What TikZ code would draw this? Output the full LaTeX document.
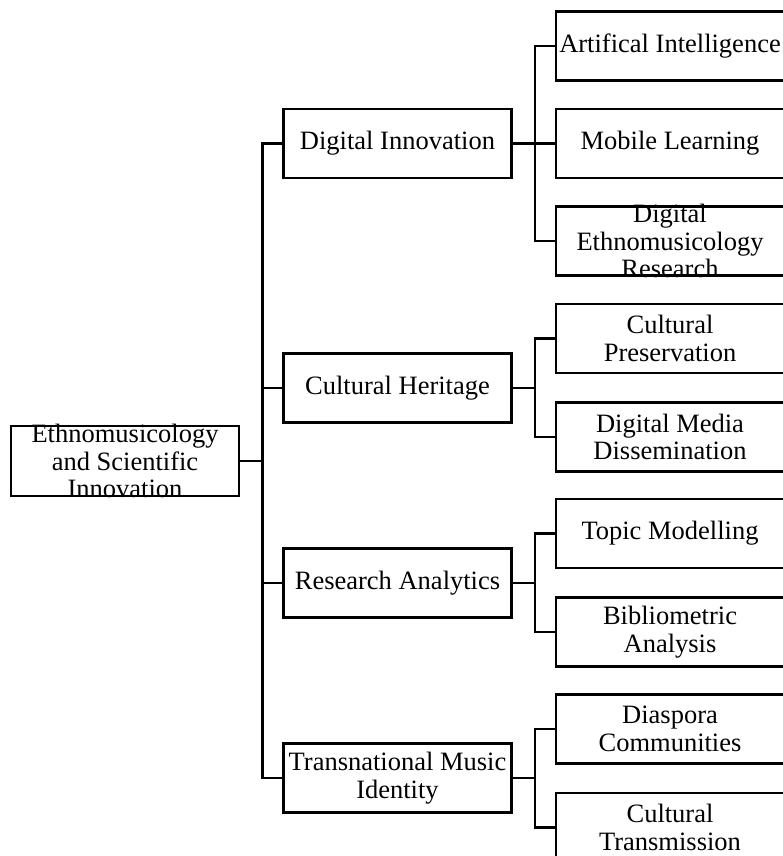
\documentclass[tikz,border=0pt]{standalone}
\usepackage{fontspec}
\setmainfont{Liberation Serif}
\usetikzlibrary{calc}
\begin{document}
\begin{tikzpicture}[x=1pt,y=-1pt,
  box/.style={draw, line width=2.5pt, inner sep=0pt, minimum width=228pt, minimum height=69pt},
  label/.style={align=center, inner sep=0pt, font=\fontsize{26.5}{27.5}\selectfont},
  link/.style={line width=2.5pt}]
\useasboundingbox (0,0) rectangle (782,856);

% root
\node[box, minimum height=70pt] (root) at (125,461) {};
\node[label] (rootT) at (root) {Ethnomusicology\\and Scientific\\Innovation};

% second level
\node[box] (m1) at (397.5,143.5) {};
\node[label] (m1T) at (m1) {Digital Innovation};
\node[box] (m2) at (397.5,388) {};
\node[label] (m2T) at (m2) {Cultural Heritage};
\node[box] (m3) at (397.5,583) {};
\node[label] (m3T) at (m3) {Research Analytics};
\node[box] (m4) at (397.5,778) {};
\node[label] (m4T) at (m4) {Transnational Music\\Identity};

% leaves
\node[box] (l1) at (670,46) {};
\node[label] at (l1) {Artifical Intelligence};
\node[box] (l2) at (670,143.5) {};
\node[label] at (l2) {Mobile Learning};
\node[box] (l3) at (670,241) {};
\node[label] at (l3) {Digital\\Ethnomusicology\\Research};
\node[box] (l4) at (670,338.5) {};
\node[label] at (l4) {Cultural\\Preservation};
\node[box] (l5) at (670,437) {};
\node[label] at (l5) {Digital Media\\Dissemination};
\node[box] (l6) at (670,533.5) {};
\node[label] at (l6) {Topic Modelling};
\node[box] (l7) at (670,632) {};
\node[label] at (l7) {Bibliometric\\Analysis};
\node[box] (l8) at (670,729) {};
\node[label] at (l8) {Diaspora\\Communities};
\node[box] (l9) at (670,827.5) {};
\node[label] at (l9) {Cultural\\Transmission};

% trunk from the root
\coordinate (t0) at ($(root.east)+(22,0)$);
\foreach \m in {m1,m2,m3,m4}
  \draw[link] (root.east) -- (t0) |- (\m.west);

% branches to the leaves
\foreach \m/\leaves in {m1/{l1,l2,l3}, m2/{l4,l5}, m3/{l6,l7}, m4/{l8,l9}} {
  \coordinate (b) at ($(\m.east)+(22,0)$);
  \foreach \l in \leaves
    \draw[link] (\m.east) -- (b) |- (\l.west);
}
\end{tikzpicture}
\end{document}
